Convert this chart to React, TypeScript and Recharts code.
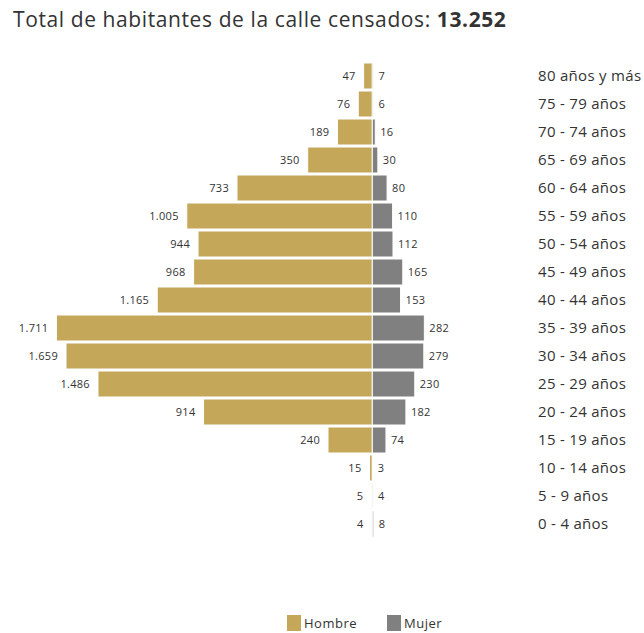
import { BarChart, Bar, XAxis, YAxis, LabelList } from 'recharts';

const ageGroups = [
  '80 años y más', '75 - 79 años', '70 - 74 años', '65 - 69 años', '60 - 64 años',
  '55 - 59 años', '50 - 54 años', '45 - 49 años', '40 - 44 años', '35 - 39 años',
  '30 - 34 años', '25 - 29 años', '20 - 24 años', '15 - 19 años', '10 - 14 años',
  '5 - 9 años', '0 - 4 años',
];
const hombre = [47, 76, 189, 350, 733, 1005, 944, 968, 1165, 1711, 1659, 1486, 914, 240, 15, 5, 4];
const mujer = [7, 6, 16, 30, 80, 110, 112, 165, 153, 282, 279, 230, 182, 74, 3, 4, 8];
const totalCensados = '13.252';

const GOLD = '#C4A758';
const GRAY = '#808080';
const TEXT = '#333333';
const FONT = '"Open Sans", "DejaVu Sans", sans-serif';

const rows = ageGroups.map((age, i) => ({ age, hombre: -hombre[i], mujer: mujer[i] }));

const fmt = (v: number) => String(Math.abs(v)).replace(/\B(?=(\d{3})+(?!\d))/g, '.');

const LeftLabel = (props: any) => {
  const { x, y, width, height, value } = props;
  const left = Math.min(x, x + width);
  return (
    <text x={left - 8} y={y + height / 2} dy={4} textAnchor="end" fontSize={11} letterSpacing={0.3} fill={TEXT} fontFamily={FONT}>
      {fmt(value)}
    </text>
  );
};

const RightLabel = (props: any) => {
  const { x, y, width, height, value } = props;
  const right = Math.max(x, x + width);
  return (
    <text x={right + 5} y={y + height / 2} dy={4} textAnchor="start" fontSize={11} letterSpacing={0.3} fill={TEXT} fontFamily={FONT}>
      {fmt(value)}
    </text>
  );
};

export default function App() {
  return (
    <div style={{ position: 'absolute', left: 0, top: 0, width: 644, height: 633, background: '#fff', fontFamily: FONT }}>
      <div style={{ position: 'absolute', left: 13, top: 5, fontSize: 21, letterSpacing: 0.6, color: TEXT, whiteSpace: 'nowrap' }}>
        Total de habitantes de la calle censados: <b>{totalCensados}</b>
      </div>
      <div style={{ position: 'absolute', left: 0, top: 0 }}>
        <BarChart
          width={644}
          height={600}
          data={rows}
          layout="vertical"
          stackOffset="sign"
          barSize={26}
          margin={{ top: 62, right: 4, bottom: 62, left: 40 }}
        >
          <XAxis type="number" domain={[-1800, 800]} hide allowDataOverflow />
          <YAxis
            type="category"
            dataKey="age"
            orientation="right"
            width={120}
            axisLine={false}
            tickLine={false}
            tickMargin={12}
            tick={{ fontSize: 15, fill: TEXT, fontFamily: FONT, textAnchor: 'start', letterSpacing: 0.3 }}
          />
          <Bar dataKey="hombre" stackId="p" fill={GOLD} stroke="#fff" strokeWidth={1} isAnimationActive={false}>
            <LabelList dataKey="hombre" content={<LeftLabel />} />
          </Bar>
          <Bar dataKey="mujer" stackId="p" fill={GRAY} stroke="#fff" strokeWidth={1} isAnimationActive={false}>
            <LabelList dataKey="mujer" content={<RightLabel />} />
          </Bar>
        </BarChart>
      </div>
      <div style={{ position: 'absolute', left: 287, top: 614, display: 'flex', alignItems: 'center', fontSize: 13, letterSpacing: 0.5, color: TEXT }}>
        <span style={{ display: 'inline-block', width: 14, height: 16, background: GOLD, marginRight: 3 }} />
        <span style={{ marginRight: 30 }}>Hombre</span>
        <span style={{ display: 'inline-block', width: 14, height: 16, background: GRAY, marginRight: 3 }} />
        <span>Mujer</span>
      </div>
    </div>
  );
}
